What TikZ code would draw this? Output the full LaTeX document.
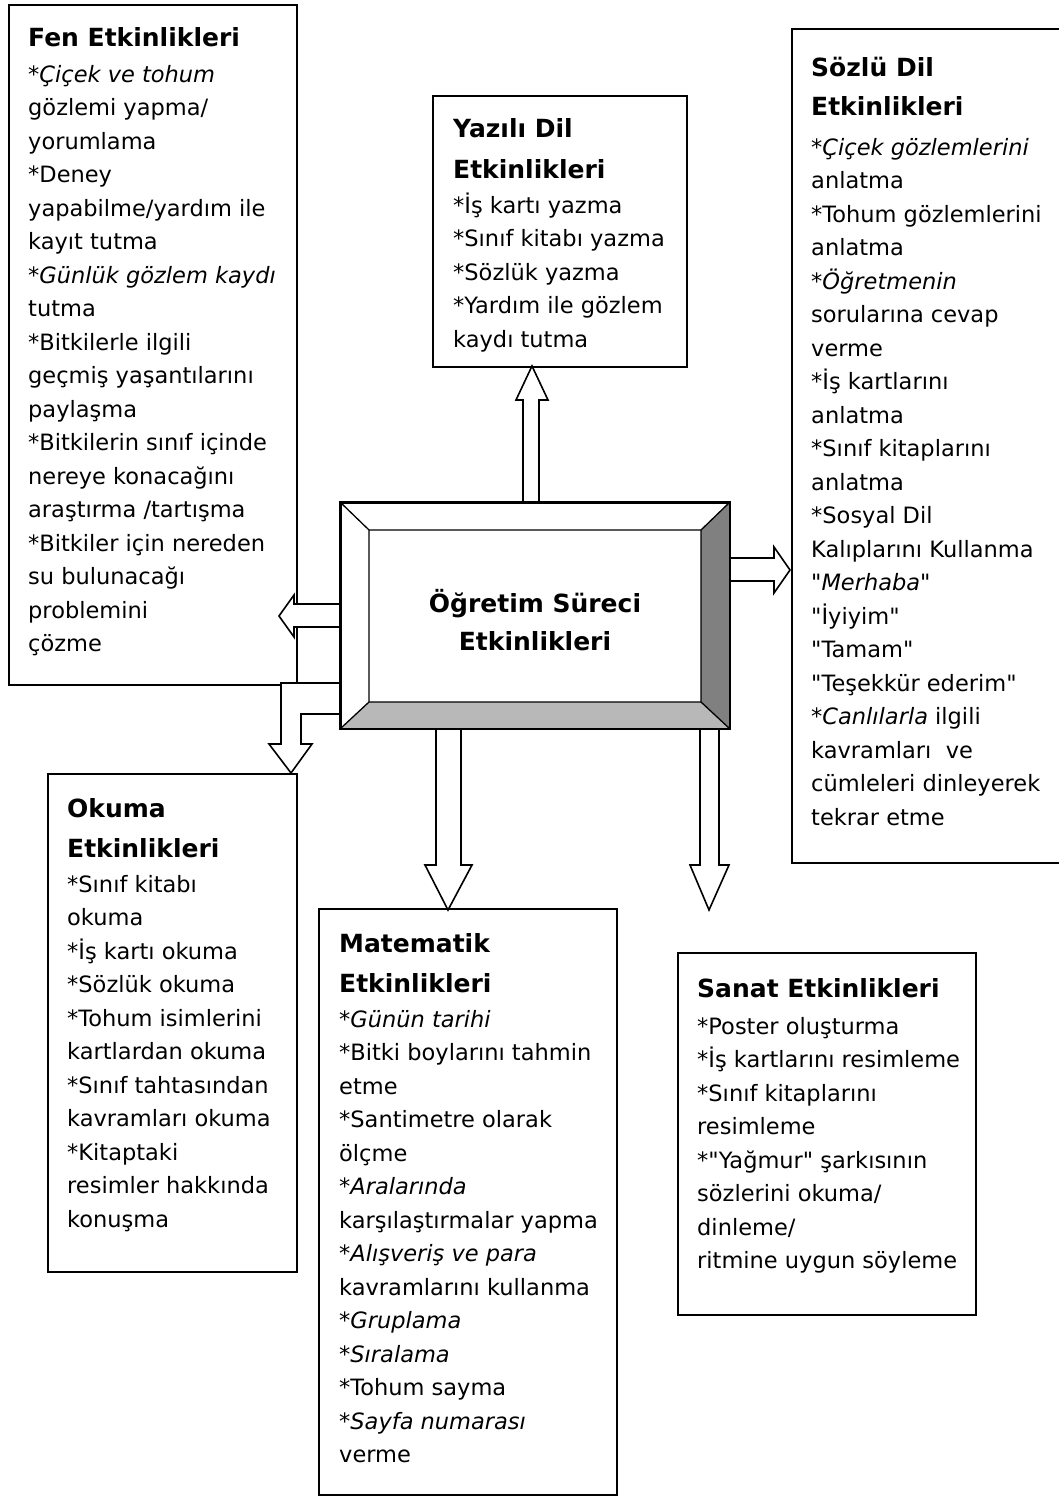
\documentclass[tikz,border=0pt]{standalone}
\usepackage{fontspec}
\setmainfont{DejaVu Sans}
\usetikzlibrary{calc}
\newcommand{\qq}{\textquotedbl}
\begin{document}
\begin{tikzpicture}[x=1pt,y=-1pt,
  box/.style={draw, line width=1.6pt, inner sep=0pt, anchor=north west},
  blk/.style={draw, line width=1.6pt, fill=white, line join=miter},
  body/.style={font=\fontsize{22.5}{33.5}\selectfont, inner sep=0pt, anchor=base west},
  head/.style={font=\bfseries\fontsize{25}{40}\selectfont, inner sep=0pt, anchor=base west},
  midhead/.style={font=\bfseries\fontsize{25}{40}\selectfont, inner sep=0pt, anchor=base}]
\useasboundingbox (0,0) rectangle (1058,1496);

% activity boxes
\node[box, minimum width=288pt, minimum height=680pt] (fen) at (8,4) {};
\node[box, minimum width=254pt, minimum height=271pt] (yazili) at (432,95) {};
\node[box, minimum width=271pt, minimum height=834pt] (sozlu) at (791,28) {};
\node[box, minimum width=249pt, minimum height=498pt] (okuma) at (47,773) {};
\node[box, minimum width=298pt, minimum height=586pt] (mat) at (318,908) {};
\node[box, minimum width=298pt, minimum height=362pt] (sanat) at (677,952) {};

% central box
\node[draw, fill=white, line width=2pt, inner sep=0pt,
      minimum width=388pt, minimum height=225pt] (ctr) at (535,615.5) {};

% block arrows leaving the central box
\draw[blk] ($(ctr.north)+(-12,0)$) -- ++(0,-102) -- ++(-7,0) -- ++(16,-34)
  -- ++(16,34) -- ++(-9,0) -- ++(0,102) -- cycle;
\draw[blk] ($(ctr.east)+(0,-57.5)$) -- ++(44,0) -- ++(0,-11) -- ++(16,23)
  -- ++(-16,23) -- ++(0,-12) -- ++(-44,0) -- cycle;
\draw[blk] ($(ctr.west)+(0,-11.5)$) -- ++(-46,0) -- ++(0,-9) -- ++(-15,21)
  -- ++(15,21) -- ++(0,-10) -- ++(46,0) -- cycle;
\draw[blk] ($(ctr.west)+(0,67.5)$) -- ++(-59,0) -- ++(0,61) -- ++(-12,0)
  -- ++(22,29) -- ++(21,-29) -- ++(-11,0) -- ++(0,-30) -- ++(39,0) -- cycle;
\draw[blk] ($(ctr.south)+(-99,0)$) -- ++(0,136) -- ++(-11,0) -- ++(23,45)
  -- ++(24,-45) -- ++(-11,0) -- ++(0,-136) -- cycle;
\draw[blk] ($(ctr.south)+(165,0)$) -- ++(0,136) -- ++(-10,0) -- ++(19,45)
  -- ++(20,-45) -- ++(-10,0) -- ++(0,-136) -- cycle;

% bevelled frame of the central box
\coordinate (iNW) at ($(ctr.north west)+(29,28)$);
\coordinate (iNE) at ($(ctr.north east)+(-29,28)$);
\coordinate (iSE) at ($(ctr.south east)+(-29,-27)$);
\coordinate (iSW) at ($(ctr.south west)+(29,-27)$);
\fill[black!50] (ctr.north east) -- (ctr.south east) -- (iSE) -- (iNE) -- cycle;
\fill[black!28] (ctr.south west) -- (ctr.south east) -- (iSE) -- (iSW) -- cycle;
\draw[line width=1.3pt] (ctr.north west) -- (iNW) -- (iNE) -- (ctr.north east)
  (iNE) -- (iSE) -- (ctr.south east) (iSE) -- (iSW) -- (ctr.south west) (iSW) -- (iNW);
\draw[line width=2pt] (ctr.north west) rectangle (ctr.south east);
\node[midhead] (ctr-t1) at (535,612) {Öğretim Süreci};
\node[midhead] (ctr-t2) at (535,650) {Etkinlikleri};

% Fen
\node[head] (fen-t) at (28,47) {Fen Etkinlikleri};
\foreach \t [count=\i from 0] in {
  *{\itshape Çiçek ve tohum}, gözlemi yapma/, yorumlama, *Deney,
  yapabilme/yardım ile, kayıt tutma, *{\itshape Günlük gözlem kaydı}, tutma,
  *Bitkilerle ilgili, geçmiş yaşantılarını, paylaşma, *Bitkilerin sınıf içinde,
  nereye konacağını, araştırma /tartışma, *Bitkiler için nereden,
  su bulunacağı, problemini, çözme}
  \node[body] (fen-\i) at (28,{82+33.5*\i}) {\t};

% Yazili Dil
\node[head] (yaz-t1) at (453,137) {Yazılı Dil};
\node[head] (yaz-t2) at (453,178) {Etkinlikleri};
\foreach \t [count=\i from 0] in {
  *İş kartı yazma, *Sınıf kitabı yazma, *Sözlük yazma, *Yardım ile gözlem,
  kaydı tutma}
  \node[body] (yaz-\i) at (453,{213+33.5*\i}) {\t};

% Sozlu Dil
\node[head] (soz-t1) at (811,77) {Sözlü Dil};
\node[head] (soz-t2) at (811,115) {Etkinlikleri};
\foreach \t [count=\i from 0] in {
  *{\itshape Çiçek gözlemlerini}, anlatma, *Tohum gözlemlerini, anlatma,
  *{\itshape Öğretmenin}, sorularına cevap, verme, *İş kartlarını, anlatma,
  *Sınıf kitaplarını, anlatma, *Sosyal Dil, Kalıplarını Kullanma,
  \qq{\itshape Merhaba}\qq, \qq İyiyim\qq, \qq Tamam\qq, \qq Teşekkür ederim\qq,
  *{\itshape Canlılarla} ilgili, kavramları\ \ ve, cümleleri dinleyerek,
  tekrar etme}
  \node[body] (soz-\i) at (811,{155+33.5*\i}) {\t};

% Okuma
\node[head] (oku-t1) at (67,817) {Okuma};
\node[head] (oku-t2) at (67,857) {Etkinlikleri};
\foreach \t [count=\i from 0] in {
  *Sınıf kitabı, okuma, *İş kartı okuma, *Sözlük okuma, *Tohum isimlerini,
  kartlardan okuma, *Sınıf tahtasından, kavramları okuma, *Kitaptaki,
  resimler hakkında, konuşma}
  \node[body] (oku-\i) at (67,{892+33.5*\i}) {\t};

% Matematik
\node[head] (mat-t1) at (339,952) {Matematik};
\node[head] (mat-t2) at (339,992) {Etkinlikleri};
\foreach \t [count=\i from 0] in {
  *{\itshape Günün tarihi}, *Bitki boylarını tahmin, etme, *Santimetre olarak,
  ölçme, *{\itshape Aralarında}, karşılaştırmalar yapma,
  *{\itshape Alışveriş ve para}, kavramlarını kullanma, *{\itshape Gruplama},
  *{\itshape Sıralama}, *Tohum sayma, *{\itshape Sayfa numarası}, verme}
  \node[body] (mat-\i) at (339,{1027+33.5*\i}) {\t};

% Sanat
\node[head] (san-t) at (697,997) {Sanat Etkinlikleri};
\foreach \t [count=\i from 0] in {
  *Poster oluşturma, *İş kartlarını resimleme, *Sınıf kitaplarını, resimleme,
  *\qq Yağmur\qq\ şarkısının, sözlerini okuma/, dinleme/, ritmine uygun söyleme}
  \node[body] (san-\i) at (697,{1034+33.5*\i}) {\t};
\end{tikzpicture}
\end{document}
